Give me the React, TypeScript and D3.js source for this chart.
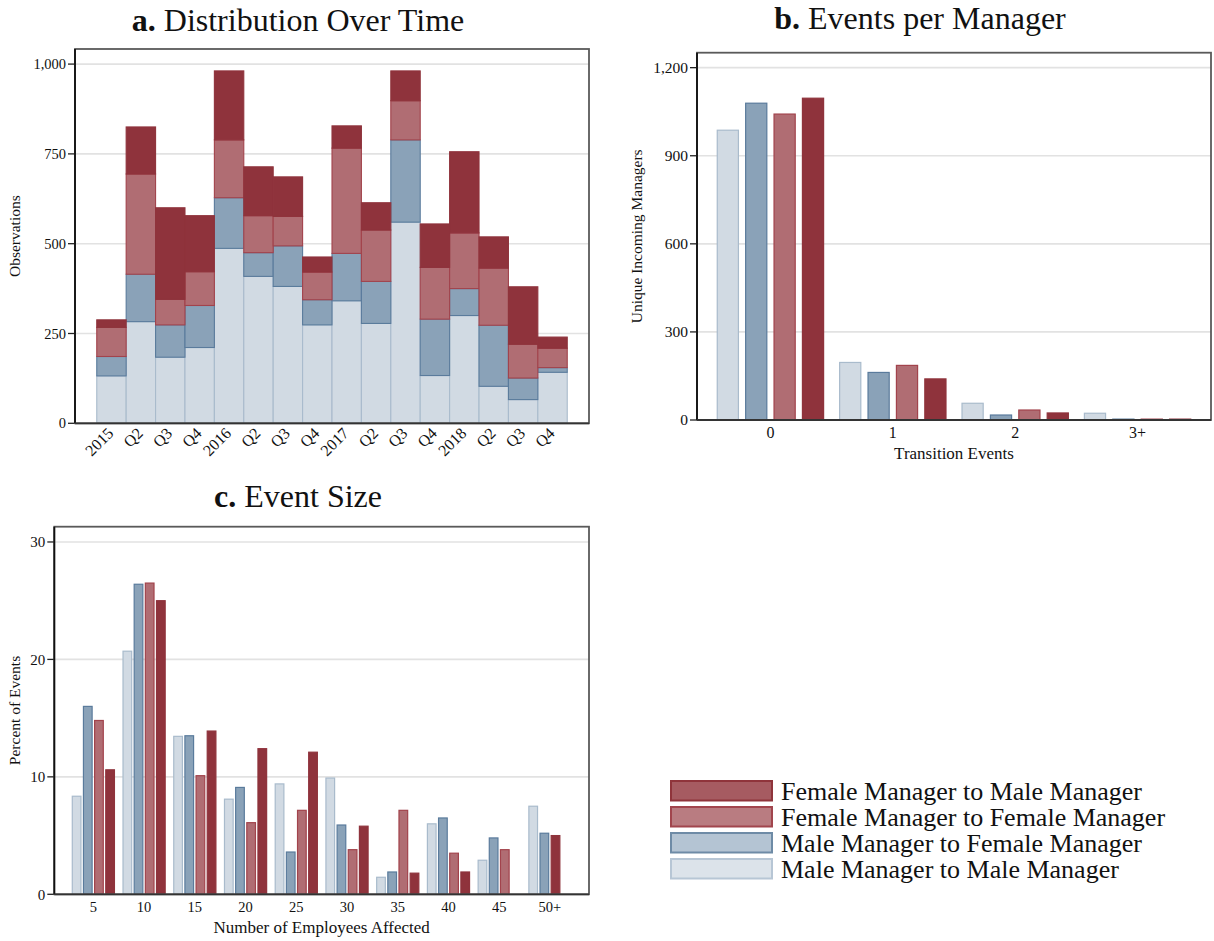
import React from "react";
import * as d3 from "d3";

// ---- Series (bottom-to-top / left-to-right order) ----
const seriesKeys = ["mm", "mf", "ff", "fm"] as const;
type Key = (typeof seriesKeys)[number];

const seriesLabels: Record<Key, string> = {
  fm: "Female Manager to Male Manager",
  ff: "Female Manager to Female Manager",
  mf: "Male Manager to Female Manager",
  mm: "Male Manager to Male Manager",
};

// ---- a. Distribution over time (observations per quarter) ----
const quarterLabels = ["2015", "Q2", "Q3", "Q4", "2016", "Q2", "Q3", "Q4", "2017", "Q2", "Q3", "Q4", "2018", "Q2", "Q3", "Q4"];
const quarterMM = [132, 283, 184, 211, 487, 409, 381, 274, 341, 278, 560, 133, 300, 103, 66, 142];
const quarterMF = [54, 132, 90, 117, 141, 66, 113, 70, 132, 117, 229, 157, 75, 170, 60, 13];
const quarterFF = [81, 279, 71, 94, 161, 103, 82, 77, 293, 143, 109, 144, 155, 159, 94, 54];
const quarterFM = [21, 131, 255, 156, 192, 136, 110, 42, 62, 76, 83, 121, 226, 87, 160, 31];
const quarterTicks = [0, 250, 500, 750, 1000];

// ---- b. Events per manager ----
const eventLabels = ["0", "1", "2", "3+"];
const eventMM = [987, 196, 57, 23];
const eventMF = [1079, 162, 17, 3];
const eventFF = [1042, 186, 34, 3];
const eventFM = [1096, 140, 24, 3];
const eventTicks = [0, 300, 600, 900, 1200];

// ---- c. Event size (percent of events) ----
const sizeLabels = ["5", "10", "15", "20", "25", "30", "35", "40", "45", "50+"];
const sizeMM: (number | null)[] = [8.35, 20.7, 13.45, 8.1, 9.4, 9.9, 1.45, 6.0, 2.9, 7.5];
const sizeMF: (number | null)[] = [16.0, 26.4, 13.5, 9.1, 3.6, 5.9, 1.9, 6.5, 4.8, 5.2];
const sizeFF: (number | null)[] = [14.8, 26.5, 10.1, 6.1, 7.15, 3.8, 7.15, 3.5, 3.8, null];
const sizeFM: (number | null)[] = [10.6, 25.0, 13.9, 12.4, 12.1, 5.8, 1.8, 1.9, null, 5.0];
const sizeTicks = [0, 10, 20, 30];

// ---- Styling ----
const FONT = "'Liberation Serif', 'Times New Roman', serif";
const fills: Record<Key, string> = { mm: "#d1dae3", mf: "#8aa2b8", ff: "#b06d73", fm: "#8f333c" };
const strokes: Record<Key, string> = { mm: "#a9bbcc", mf: "#5a7b9c", ff: "#a2434c", fm: "#8f333c" };
const legendFills: Record<Key, string> = { mm: "#dce3ea", mf: "#b4c4d3", ff: "#b97c81", fm: "#a65b61" };
const legendStrokes: Record<Key, string> = { mm: "#b7c6d5", mf: "#6e8ba6", ff: "#a1454d", fm: "#8f343b" };
const GRID = "#e2e2e2";

type Box = { left: number; right: number; top: number; bottom: number };

function Frame({ box, ticks, y, fmt, fontSize }: { box: Box; ticks: number[]; y: d3.ScaleLinear<number, number>; fmt: (v: number) => string; fontSize: number }) {
  return (
    <g>
      {ticks.filter((t) => t > 0).map((t) => (
        <line key={"g" + t} x1={box.left} x2={box.right} y1={y(t)} y2={y(t)} stroke={GRID} strokeWidth={1.6} />
      ))}
      {ticks.map((t) => (
        <g key={"t" + t}>
          <line x1={box.left - 7} x2={box.left} y1={y(t)} y2={y(t)} stroke="#222" strokeWidth={1.3} />
          <text x={box.left - 9} y={y(t)} dy="0.35em" textAnchor="end" fontSize={fontSize} fontFamily={FONT} fill="#111">
            {fmt(t)}
          </text>
        </g>
      ))}
    </g>
  );
}

function Border({ box }: { box: Box }) {
  return (
    <g>
      <rect x={box.left} y={box.top} width={box.right - box.left} height={box.bottom - box.top} fill="none" stroke="#5a5a5a" strokeWidth={1.8} />
      <line x1={box.left} x2={box.left} y1={box.top} y2={box.bottom} stroke="#111" strokeWidth={1.8} />
      <line x1={box.left} x2={box.right} y1={box.bottom} y2={box.bottom} stroke="#333" strokeWidth={1.8} />
    </g>
  );
}

function Title({ x, y, letter, text }: { x: number; y: number; letter: string; text: string }) {
  return (
    <text x={x} y={y} textAnchor="middle" fontSize={32} fontFamily={FONT} fill="#111">
      <tspan fontWeight="bold">{letter}</tspan>
      <tspan>{" " + text}</tspan>
    </text>
  );
}

const commaFmt = d3.format(",");

function PanelA() {
  const box: Box = { left: 75, right: 589, top: 49, bottom: 423.3 };
  const y = d3.scaleLinear().domain([0, 1042]).range([box.bottom, box.top]);
  const idx = quarterLabels.map((_, i) => String(i));
  const x = d3.scaleBand<string>().domain(idx).range([box.left, box.right]).paddingInner(0).paddingOuter(0.74);
  const rows = quarterLabels.map((_, i) => ({ mm: quarterMM[i], mf: quarterMF[i], ff: quarterFF[i], fm: quarterFM[i] }));
  const stacked = d3.stack<{ [k: string]: number }>().keys(seriesKeys as unknown as string[])(rows);
  return (
    <g>
      <Title x={298} y={31} letter="a." text="Distribution Over Time" />
      <Frame box={box} ticks={quarterTicks} y={y} fmt={commaFmt} fontSize={14.5} />
      {stacked.map((layer) => {
        const k = layer.key as Key;
        return layer.map((d, i) => (
          <rect
            key={k + i}
            x={x(String(i))!}
            width={x.bandwidth()}
            y={y(d[1])}
            height={y(d[0]) - y(d[1])}
            fill={fills[k]}
            stroke={strokes[k]}
            strokeWidth={1.1}
          />
        ));
      })}
      <Border box={box} />
      {quarterLabels.map((q, i) => {
        const cx = x(String(i))! + x.bandwidth() / 2 + 3;
        return (
          <text key={"q" + i} transform={`translate(${cx},${box.bottom + 11}) rotate(-45)`} textAnchor="end" fontSize={16} fontFamily={FONT} fill="#111">
            {q}
          </text>
        );
      })}
      <text transform={`translate(20,${(box.top + box.bottom) / 2}) rotate(-90)`} textAnchor="middle" fontSize={15.5} fontFamily={FONT} fill="#111">
        Observations
      </text>
    </g>
  );
}

function GroupedBars({
  x,
  y,
  values,
  barFrac,
  stepFrac,
}: {
  x: d3.ScaleLinear<number, number>;
  y: d3.ScaleLinear<number, number>;
  values: Record<Key, (number | null)[]>;
  barFrac: number;
  stepFrac: number;
}) {
  const groupStep = x(1) - x(0);
  const bw = barFrac * groupStep;
  const bs = stepFrac * groupStep;
  const n = values.mm.length;
  const out: React.ReactNode[] = [];
  for (let g = 0; g < n; g++) {
    // present series fill the slots in order
    const present = seriesKeys.filter((k) => values[k][g] != null);
    present.forEach((k, slot) => {
      const v = values[k][g] as number;
      const cx = x(g) + (slot - 1.5) * bs;
      out.push(
        <rect key={k + g} x={cx - bw / 2} width={bw} y={y(v)} height={y(0) - y(v)} fill={fills[k]} stroke={strokes[k]} strokeWidth={1.2} />
      );
    });
  }
  return <g>{out}</g>;
}

function PanelB() {
  const box: Box = { left: 697, right: 1211, top: 52.7, bottom: 420 };
  const y = d3.scaleLinear().domain([0, 1251]).range([box.bottom, box.top]);
  const x = d3.scaleLinear().domain([-0.6, eventLabels.length - 1 + 0.6]).range([box.left, box.right]);
  return (
    <g>
      <Title x={920} y={29} letter="b." text="Events per Manager" />
      <Frame box={box} ticks={eventTicks} y={y} fmt={commaFmt} fontSize={15.5} />
      <GroupedBars x={x} y={y} values={{ mm: eventMM, mf: eventMF, ff: eventFF, fm: eventFM }} barFrac={0.173} stepFrac={0.232} />
      <Border box={box} />
      {eventLabels.map((l, i) => (
        <text key={"e" + i} x={x(i)} y={438} textAnchor="middle" fontSize={16} fontFamily={FONT} fill="#111">
          {l}
        </text>
      ))}
      <text x={(box.left + box.right) / 2} y={459} textAnchor="middle" fontSize={17} fontFamily={FONT} fill="#111">
        Transition Events
      </text>
      <text transform={`translate(642,${(box.top + box.bottom) / 2}) rotate(-90)`} textAnchor="middle" fontSize={15.5} fontFamily={FONT} fill="#111">
        Unique Incoming Managers
      </text>
    </g>
  );
}

function PanelC() {
  const box: Box = { left: 54.3, right: 589, top: 526.7, bottom: 894.3 };
  const y = d3.scaleLinear().domain([0, 31.3]).range([box.bottom, box.top]);
  const x = d3.scaleLinear().domain([-0.77, sizeLabels.length - 1 + 0.77]).range([box.left, box.right]);
  return (
    <g>
      <Title x={298} y={507} letter="c." text="Event Size" />
      <Frame box={box} ticks={sizeTicks} y={y} fmt={(v) => String(v)} fontSize={15} />
      <GroupedBars x={x} y={y} values={{ mm: sizeMM, mf: sizeMF, ff: sizeFF, fm: sizeFM }} barFrac={0.171} stepFrac={0.22} />
      <Border box={box} />
      {sizeLabels.map((l, i) => (
        <text key={"s" + i} x={x(i)} y={912} textAnchor="middle" fontSize={14.5} fontFamily={FONT} fill="#111">
          {l}
        </text>
      ))}
      <text x={(box.left + box.right) / 2} y={933} textAnchor="middle" fontSize={17} fontFamily={FONT} fill="#111">
        Number of Employees Affected
      </text>
      <text transform={`translate(20,${(box.top + box.bottom) / 2}) rotate(-90)`} textAnchor="middle" fontSize={15.5} fontFamily={FONT} fill="#111">
        Percent of Events
      </text>
    </g>
  );
}

function Legend() {
  const order: Key[] = ["fm", "ff", "mf", "mm"];
  return (
    <g>
      {order.map((k, i) => {
        const top = 781 + i * 26;
        return (
          <g key={k}>
            <rect x={671} y={top} width={101} height={19.5} fill={legendFills[k]} stroke={legendStrokes[k]} strokeWidth={2} />
            <text x={781} y={top + 18.5} fontSize={26} fontFamily={FONT} fill="#111">
              {seriesLabels[k]}
            </text>
          </g>
        );
      })}
    </g>
  );
}

export default function App() {
  return (
    <svg width={1214} height={941} style={{ position: "absolute", left: 0, top: 0, background: "#fff" }}>
      <rect width={1214} height={941} fill="#fff" />
      <PanelA />
      <PanelB />
      <PanelC />
      <Legend />
    </svg>
  );
}
